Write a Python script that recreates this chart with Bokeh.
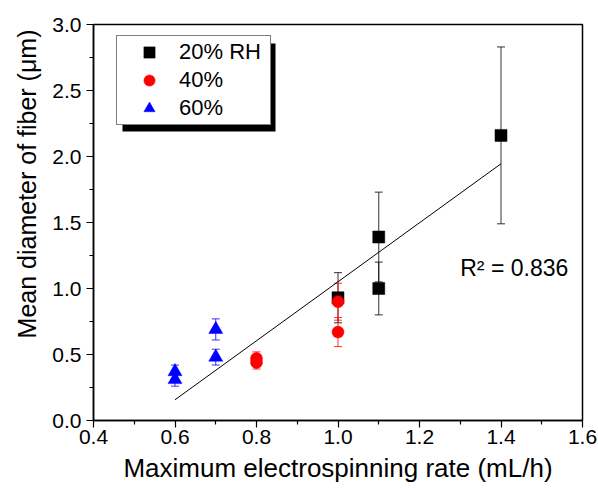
import numpy as np
from bokeh.plotting import figure
from bokeh.models import (ColumnDataSource, Whisker, TeeHead, Legend, LegendItem,
                          Label, BoxAnnotation, FixedTicker, Range1d, Title)
from bokeh.embed import file_html
from bokeh.resources import INLINE

FONT = "Liberation Sans"

# ---- data ----
rh20_x = [1.0, 1.1, 1.1, 1.4]
rh20_y = [0.93, 1.39, 1.00, 2.16]
rh20_err = [0.19, 0.34, 0.20, 0.67]

rh40_x = [0.8, 0.8, 1.0, 1.0]
rh40_y = [0.47, 0.44, 0.90, 0.67]
rh40_err = [0.05, 0.05, 0.14, 0.11]

rh60_x = [0.6, 0.6, 0.7, 0.7]
rh60_y = [0.37, 0.31, 0.69, 0.48]
rh60_err = [0.05, 0.05, 0.08, 0.06]

fit_x = [0.6, 1.4]
fit_y = [0.157, 1.945]

x_ticks = [0.4, 0.6, 0.8, 1.0, 1.2, 1.4, 1.6]
y_ticks = [0.0, 0.5, 1.0, 1.5, 2.0, 2.5, 3.0]
labels = ["20% RH", "40%", "60%"]
r2_text = "R\u00b2 = 0.836"
x_title = "Maximum electrospinning rate (mL/h)"
y_title = "Mean diameter of fiber (\u03bcm)"

X0, X1, Y0, Y1 = 0.4, 1.6, 0.0, 3.0

p = figure(width=598, height=489, output_backend="svg", toolbar_location=None,
           x_range=Range1d(X0, X1), y_range=Range1d(Y0, Y1),
           min_border_left=93, min_border_right=16, min_border_top=24, min_border_bottom=69)
p.grid.visible = False
p.outline_line_color = "black"
p.outline_line_width = 1.5
p.background_fill_color = "white"

for ax in (p.xaxis[0], p.yaxis[0]):
    ax.axis_line_width = 1.5
    ax.axis_line_color = "black"
    ax.major_tick_line_color = "black"
    ax.minor_tick_line_color = "black"
    ax.major_tick_line_width = 1.2
    ax.minor_tick_line_width = 1.2
    ax.major_tick_in = 0
    ax.major_tick_out = 7
    ax.minor_tick_in = 0
    ax.minor_tick_out = 4
    ax.major_label_text_font = FONT
    ax.major_label_text_font_size = "21px"
    ax.major_label_text_color = "black"
    ax.axis_label_text_font = FONT
    ax.axis_label_text_font_style = "normal"
    ax.axis_label_text_color = "black"

p.xaxis[0].ticker = FixedTicker(ticks=x_ticks, minor_ticks=[0.5, 0.7, 0.9, 1.1, 1.3, 1.5])
p.yaxis[0].ticker = FixedTicker(ticks=y_ticks, minor_ticks=[0.25, 0.75, 1.25, 1.75, 2.25, 2.75])
p.xaxis[0].major_label_overrides = {t: f"{t:.1f}" for t in x_ticks}
p.yaxis[0].major_label_overrides = {t: f"{t:.1f}" for t in y_ticks}
p.xaxis[0].axis_label = x_title
p.xaxis[0].axis_label_text_font_size = "26px"
p.xaxis[0].axis_label_standoff = 6
p.xaxis[0].major_label_standoff = 2
p.yaxis[0].major_label_standoff = 5

# y title as a side title, placed toward the top like the reference
p.add_layout(Title(text=y_title, align="right", offset=5, standoff=17,
                   text_font=FONT, text_font_size="25px", text_font_style="normal",
                   text_color="black"), "left")

# fit line
p.line(fit_x, fit_y, line_color="black", line_width=1)

renderers = []
series = [
    (rh20_x, rh20_y, rh20_err, "black", "square", 12),
    (rh40_x, rh40_y, rh40_err, "#ff0000", "circle", 12),
    (rh60_x, rh60_y, rh60_err, "#0000ff", "triangle", 14),
]
for xs, ys, es, col, mk, sz in series:
    src = ColumnDataSource(dict(x=xs, y=ys,
                                lo=[y - e for y, e in zip(ys, es)],
                                hi=[y + e for y, e in zip(ys, es)]))
    w = Whisker(source=src, base="x", lower="lo", upper="hi",
                line_color=col, line_alpha=0.8, line_width=1,
                upper_head=TeeHead(size=8, line_color=col, line_alpha=0.8, line_width=1),
                lower_head=TeeHead(size=8, line_color=col, line_alpha=0.8, line_width=1))
    p.add_layout(w)
    r = p.scatter("x", "y", source=src, marker=mk, size=sz,
                  fill_color=col, line_color=col, line_width=0.5)
    renderers.append(r)

# legend shadow (decoration), placed via pixel->data conversion
fw, fh = 489.0, 396.0
def px2x(px):
    return X0 + px * (X1 - X0) / fw
def py2y(py):
    return Y1 - py * (Y1 - Y0) / fh
lg_left, lg_top, lg_w, lg_h, sh = 23.0, 13.0, 153.0, 88.0, 6.0
shadow = BoxAnnotation(left=px2x(lg_left + sh), right=px2x(lg_left + lg_w + sh),
                       top=py2y(lg_top + sh), bottom=py2y(lg_top + lg_h + sh),
                       fill_color="black", fill_alpha=1.0, line_color=None)
p.add_layout(shadow)

legend = Legend(items=[LegendItem(label=l, renderers=[r]) for l, r in zip(labels, renderers)],
                location=(lg_left, fh - lg_top - lg_h),
                border_line_color="black", border_line_width=1,
                background_fill_color="white", background_fill_alpha=1.0,
                padding=2, spacing=0, margin=0,
                glyph_width=60, glyph_height=28, label_height=28, label_width=89,
                label_standoff=0,
                label_text_font=FONT, label_text_font_size="22px",
                label_text_color="black")
p.add_layout(legend)

# R^2 annotation
p.add_layout(Label(x=1.30, y=1.152, text=r2_text, text_font=FONT,
                   text_font_size="23px", text_color="black",
                   text_baseline="alphabetic", text_align="left"))

open("out.html", "w").write(file_html(p, INLINE))
